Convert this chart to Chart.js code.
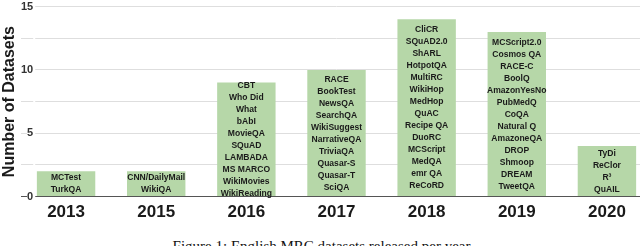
<!DOCTYPE html>
<html>
<head>
<meta charset="utf-8">
<script src="https://cdn.jsdelivr.net/npm/chart.js@4/dist/chart.umd.min.js"></script>
<style>
  html, body { margin: 0; padding: 0; background: #fff; overflow: hidden; width: 640px; height: 246px; }
  #wrap { position: absolute; left: 0; top: 0; width: 660px; height: 229px; }
  #caption {
    position: absolute; left: 0; top: 238px; width: 646px; text-align: center;
    font-family: 'Liberation Serif', 'Times New Roman', serif; font-size: 15px; line-height: 16px; color: #111;
  }
</style>
</head>
<body>
<div id="wrap"><canvas id="mrcChart"></canvas></div>
<div id="caption">Figure 1: English MRC datasets released per year.</div>
<script>
const YEARS = ['2013', '2015', '2016', '2017', '2018', '2019', '2020'];
const COUNTS = [2, 2, 9, 10, 14, 13, 4];

const NAMES_2013 = ['MCTest', 'TurkQA'];
const NAMES_2015 = ['CNN/DailyMail', 'WikiQA'];
const NAMES_2016 = ['CBT', 'Who Did', 'What', 'bAbI', 'MovieQA', 'SQuAD', 'LAMBADA', 'MS MARCO', 'WikiMovies', 'WikiReading'];
const NAMES_2017 = ['RACE', 'BookTest', 'NewsQA', 'SearchQA', 'WikiSuggest', 'NarrativeQA', 'TriviaQA', 'Quasar-S', 'Quasar-T', 'SciQA'];
const NAMES_2018 = ['CliCR', 'SQuAD2.0', 'ShARL', 'HotpotQA', 'MultiRC', 'WikiHop', 'MedHop', 'QuAC', 'Recipe QA', 'DuoRC', 'MCScript', 'MedQA', 'emr QA', 'ReCoRD'];
const NAMES_2019 = ['MCScript2.0', 'Cosmos QA', 'RACE-C', 'BoolQ', 'AmazonYesNo', 'PubMedQ', 'CoQA', 'Natural Q', 'AmazoneQA', 'DROP', 'Shmoop', 'DREAM', 'TweetQA'];
const NAMES_2020 = ['TyDi', 'ReClor', 'R³', 'QuAIL'];

const BAR_NAMES = [NAMES_2013, NAMES_2015, NAMES_2016, NAMES_2017, NAMES_2018, NAMES_2019, NAMES_2020];
const Y_TICKS = [0, 5, 10, 15];

const BAR_GREEN = '#b6d7a8';
const FONT = "'Liberation Sans', Arial, sans-serif";

// names stacked inside each bar, centred vertically
const barNames = {
  id: 'barNames',
  afterDatasetsDraw(chart) {
    const { ctx } = chart;
    const meta = chart.getDatasetMeta(0);
    const lineH = 12;
    ctx.save();
    ctx.fillStyle = '#1a1a1a';
    ctx.font = 'bold 9.5px ' + FONT;
    ctx.textAlign = 'center';
    ctx.textBaseline = 'middle';
    meta.data.forEach((bar, i) => {
      const names = BAR_NAMES[i];
      const mid = (bar.y + bar.base) / 2;
      const start = mid - (names.length - 1) * lineH / 2;
      names.forEach((n, j) => {
        ctx.save();
        ctx.translate(bar.x, start + j * lineH);
        ctx.scale(0.9, 1);
        ctx.fillText(n, 0, 0);
        ctx.restore();
      });
    });
    ctx.restore();
  }
};

new Chart(document.getElementById('mrcChart'), {
  type: 'bar',
  data: {
    labels: YEARS,
    datasets: [{
      data: COUNTS,
      backgroundColor: BAR_GREEN,
      borderWidth: 0,
      barPercentage: 0.72,
      categoryPercentage: 0.9,
    }]
  },
  options: {
    responsive: true,
    maintainAspectRatio: false,
    animation: false,
    layout: { padding: { top: -10, right: 8, left: 0, bottom: 0 } },
    plugins: {
      legend: { display: false },
      tooltip: { enabled: false },
    },
    scales: {
      x: {
        grid: { display: false, drawTicks: false },
        border: { color: '#555', width: 1 },
        ticks: {
          color: '#1a1a1a',
          font: { family: FONT, size: 17, weight: 'bold' },
          padding: 6,
        },
      },
      y: {
        min: 0,
        max: 15,
        afterFit: s => { s.width = 21; },
        border: { display: false },
        grid: {
          color: c => c.tick.value === 0 ? 'rgba(0,0,0,0)' : '#dedede',
          drawTicks: false,
        },
        ticks: {
          stepSize: 2.5,
          mirror: true,
          crossAlign: 'far',
          padding: 0,
          color: '#333',
          font: { family: FONT, size: 11, weight: 'bold' },
          callback: v => Y_TICKS.includes(v) ? String(v) : '',
          showLabelBackdrop: true,
          backdropColor: '#fff',
          backdropPadding: { top: 0, bottom: 0, left: 0, right: 2 },
        },
        title: {
          display: true,
          text: 'Number of Datasets',
          color: '#1a1a1a',
          font: { family: FONT, size: 16, weight: 'bold' },
          padding: { top: 0, bottom: 0 },
        },
      }
    }
  },
  plugins: [barNames]
});
</script>
</body>
</html>
